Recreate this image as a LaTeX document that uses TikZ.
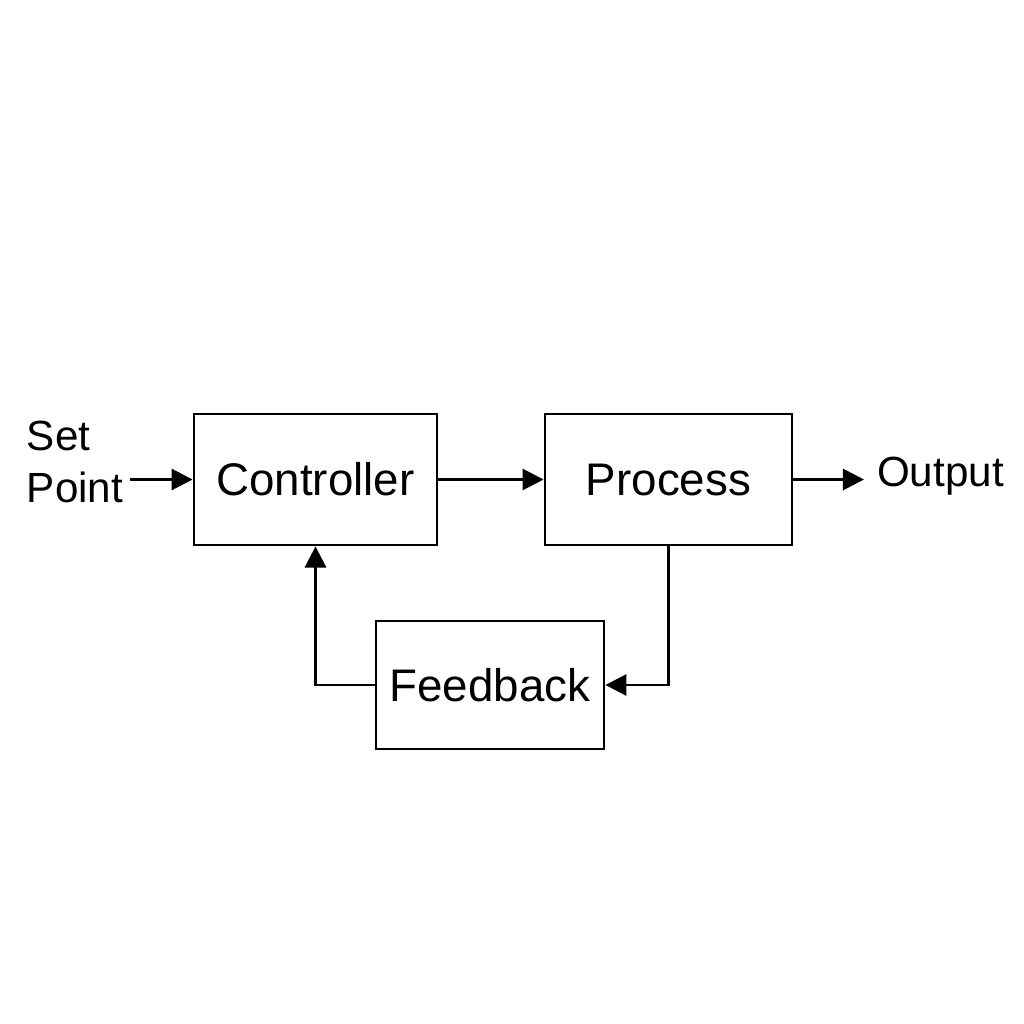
\documentclass[tikz,border=0pt]{standalone}
\usepackage{fontspec}
\setmainfont{Liberation Sans}
\usetikzlibrary{arrows.meta,positioning}
\begin{document}
\begin{tikzpicture}[block/.style = {draw=black, line width=0.8pt, minimum height=1.31cm,
            font=\fontsize{13pt}{15pt}\selectfont},
          lbl/.style = {align=left, font=\fontsize{12pt}{15pt}\selectfont},
          >={Triangle[length=6pt,width=6pt]}, line width=0.8pt]
        \useasboundingbox (0,0) rectangle (10.24,-10.24);
        \node [block, minimum width=2.43cm] (ctrl) at (3.155,-4.795) {Controller};
        \node [block, minimum width=2.47cm] (proc) at (6.685,-4.795) {Process};
        \node [block, minimum width=2.28cm, minimum height=1.28cm] (fb) at (4.90,-6.85) {Feedback};
        \node [lbl] (sp) at (0.75,-4.62) {Set\\Point};
        \node [lbl, anchor=west] (out) at (8.64,-4.76) {Output};
        \coordinate (spend) at (1.30,-4.795);
        % connectors
        \draw [->] (spend) -- (ctrl.west);
        \draw [->] (ctrl.east) -- (proc.west);
        \draw [->] (proc.east) -- (out.west |- proc.east);
        \draw [->] (proc.south) |- (fb.east);
        \draw [->] (fb.west) -| (ctrl.south);
\end{tikzpicture}
\end{document}
